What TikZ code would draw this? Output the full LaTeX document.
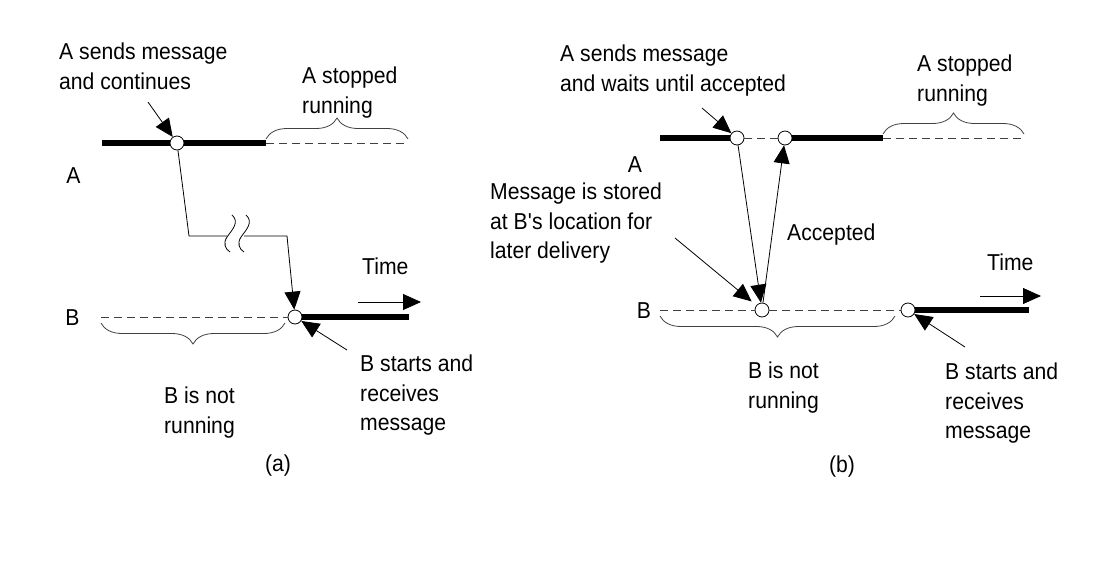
\documentclass[tikz,border=0pt]{standalone}
\usepackage{fontspec}
\setmainfont[FakeStretch=0.92]{Liberation Sans}
\usetikzlibrary{arrows.meta,decorations.pathreplacing}

\begin{document}
\begin{tikzpicture}
	[
		x=1pt, y=-1pt,
		event/.style = {circle, draw=black, fill=white, line width=0.8pt, minimum size=14pt, inner sep=0pt},
		note/.style = {anchor=north west, align=left, inner sep=0pt, font=\fontsize{23}{29.5}\selectfont},
		lab/.style = {inner sep=0pt, font=\fontsize{23}{29.5}\selectfont},
		run/.style = {line width=6pt},
		idle/.style = {dash pattern=on 8pt off 5pt, line width=0.8pt, draw=black!75},
		wire/.style = {line width=0.8pt},
		msg/.style = {line width=0.8pt, -{Triangle[length=18pt,width=16pt]}},
		over/.style = {decorate, decoration={brace, amplitude=21pt, raise=4pt}, line width=0.8pt, draw=black!75},
		under/.style = {decorate, decoration={brace, mirror, amplitude=21pt, raise=6pt}, line width=0.8pt, draw=black!75},
	]
	\useasboundingbox (0,0) rectangle (1116,579);

	% (a) A continues
	\node[lab] (aAlab) 	at ( 73.5, 175.5 ) {A};
	\node[lab] (aBlab) 	at ( 72.5, 318.0 ) {B};
	\node[event] (aA) 	at ( 177, 143 ) {};
	\node[event] (aB) 	at ( 295, 317 ) {};
	\coordinate (aA0) 	at ( 102, 143 );
	\coordinate (aA1) 	at ( 266, 143 );
	\coordinate (aA2) 	at ( 408, 143 );
	\coordinate (aB0) 	at ( 101, 317 );
	\coordinate (aB0e) 	at ( 285, 317 );
	\coordinate (aB1) 	at ( 409, 317 );
	\coordinate (aM1) 	at ( 189, 236 );
	\coordinate (aM2) 	at ( 227, 236 );
	\coordinate (aM3) 	at ( 244, 236 );
	\coordinate (aM4) 	at ( 287, 236 );
	\coordinate (aT0) 	at ( 358, 302 );
	\coordinate (aT1) 	at ( 421, 302 );
	\coordinate (aSendTip) 	at ( 148, 102 );
	\coordinate (aStartTip) at ( 347, 350 );

	\node[note] (aSend) 	at (  59,  43 ) {A sends message\\and continues};
	\node[note] (aStop) 	at ( 302,  67 ) {A stopped\\running};
	\node[note] (aTime) 	at ( 362, 258 ) {Time};
	\node[note] (aIdle) 	at ( 164, 387 ) {B is not\\running};
	\node[note] (aStart) 	at ( 360, 355 ) {B starts and\\receives\\message};
	\node[lab] (aCap) 	at ( 278, 466 ) {(a)};

	\foreach \from/\to in {aA0/aA,aA/aA1,aB/aB1}
	\draw[run] (\from) -- (\to);
	\foreach \from/\to in {aA1/aA2,aB0/aB}
	\draw[idle] (\from) -- (\to);

	\draw[over] (aA1) -- (aA2);
	\draw[under] (aB0) -- (aB0e);

	\draw[wire] (aA) -- (aM1) -- (aM2);
	\draw[msg] (aM3) -- (aM4) -- (aB);
	\foreach \dx in {0,14}
	\draw[wire, xshift=\dx pt] (232,215) .. controls (240,222) and (232,230) .. (227,237) .. controls (223,243) and (225,249) .. (230,252);

	\draw[msg] (aSendTip) -- (aA);
	\draw[msg] (aStartTip) -- (aB);
	\draw[msg] (aT0) -- (aT1);

	% (b) A waits
	\node[lab] (bAlab) 	at ( 635, 165 ) {A};
	\node[lab] (bBlab) 	at ( 644, 311 ) {B};
	\node[event] (bA1) 	at ( 737, 138 ) {};
	\node[event] (bA2) 	at ( 785, 138 ) {};
	\node[event] (bB1) 	at ( 762, 310 ) {};
	\node[event] (bB2) 	at ( 908, 310 ) {};
	\coordinate (bA0) 	at (  660, 138 );
	\coordinate (bA3) 	at (  883, 138 );
	\coordinate (bA4) 	at ( 1024, 138 );
	\coordinate (bB0) 	at (  660, 310 );
	\coordinate (bB0e) 	at (  895, 310 );
	\coordinate (bB3) 	at ( 1029, 310 );
	\coordinate (bT0) 	at (  980, 296 );
	\coordinate (bT1) 	at ( 1041, 296 );
	\coordinate (bSendTip) 	at ( 702, 108 );
	\coordinate (bStoreTip) at ( 675, 238 );
	\coordinate (bStartTip) at ( 965, 347 );

	\node[note] (bSend) 	at ( 560,  45 ) {A sends message\\and waits until accepted};
	\node[note] (bStop) 	at ( 917,  55 ) {A stopped\\running};
	\node[note] (bStore) 	at ( 490, 183 ) {Message is stored\\at B\textquotesingle s location for\\later delivery};
	\node[note] (bAcc) 	at ( 787, 224 ) {Accepted};
	\node[note] (bTime) 	at ( 987, 254 ) {Time};
	\node[note] (bIdle) 	at ( 748, 362 ) {B is not\\running};
	\node[note] (bStart) 	at ( 945, 363 ) {B starts and\\receives\\message};
	\node[lab] (bCap) 	at ( 842, 467 ) {(b)};

	\foreach \from/\to in {bA0/bA1,bA2/bA3,bB2/bB3}
	\draw[run] (\from) -- (\to);
	\foreach \from/\to in {bA1/bA2,bA3/bA4,bB0/bB1,bB1/bB2}
	\draw[idle] (\from) -- (\to);

	\draw[over] (bA3) -- (bA4);
	\draw[under] (bB0) -- (bB0e);

	\draw[msg] (bA1) -- (bB1);
	\draw[msg] (bB1) -- (bA2);
	\draw[msg] (bSendTip) -- (bA1);
	\draw[msg, shorten >=6pt] (bStoreTip) -- (bB1);
	\draw[msg] (bStartTip) -- (bB2);
	\draw[msg] (bT0) -- (bT1);

	\end{tikzpicture}
\end{document}
